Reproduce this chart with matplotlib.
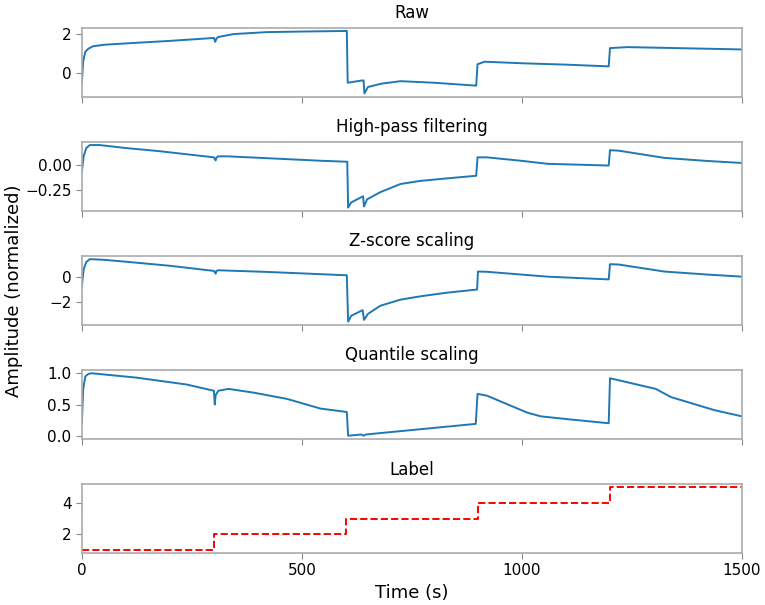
import matplotlib
matplotlib.use("Agg")
import matplotlib.pyplot as plt
import numpy as np


# values (time in s)
raw_t = [0, 3, 8, 15, 25, 50, 100, 200, 300, 303, 306, 310, 345, 420, 500, 602,
         604, 632, 640, 642, 650, 680, 724, 800, 896, 899, 915, 1000, 1100, 1197,
         1200, 1240, 1350, 1500]
raw_v = [-0.5, 0.6, 1.1, 1.25, 1.37, 1.45, 1.52, 1.65, 1.8, 1.6, 1.78, 1.85, 2.0,
         2.1, 2.13, 2.16, -0.5, -0.4, -0.38, -1.05, -0.72, -0.55, -0.42, -0.5,
         -0.65, 0.45, 0.58, 0.5, 0.43, 0.34, 1.28, 1.33, 1.28, 1.21]

hp_t = [0, 4, 10, 18, 40, 102, 177, 300, 304, 306, 310, 330, 405, 542, 603,
        605, 612, 639, 641, 648, 678, 724, 769, 830, 896, 899, 920, 997, 1058,
        1197, 1200, 1220, 1323, 1420, 1500]
hp_v = [-0.07, 0.08, 0.16, 0.19, 0.19, 0.16, 0.13, 0.07, 0.04, 0.07, 0.08, 0.08,
        0.065, 0.037, 0.027, -0.42, -0.37, -0.31, -0.41, -0.34, -0.27, -0.19,
        -0.16, -0.135, -0.11, 0.07, 0.07, 0.037, 0.007, -0.01, 0.14, 0.135,
        0.065, 0.035, 0.015]

z_t = [0, 4, 10, 18, 50, 117, 200, 300, 304, 306, 310, 420, 602, 605, 612, 638,
       641, 650, 678, 724, 770, 830, 898, 900, 920, 1058, 1197, 1200, 1220,
       1323, 1420, 1500]
z_v = [-0.73, 0.6, 1.2, 1.43, 1.38, 1.17, 0.9, 0.49, 0.27, 0.5, 0.54, 0.41, 0.14,
       -3.57, -3.1, -2.65, -3.43, -2.95, -2.3, -1.81, -1.54, -1.25, -1.0, 0.44,
       0.42, 0.03, -0.19, 1.03, 1.0, 0.44, 0.2, 0.03]

q_t = [0, 3, 8, 15, 22, 124, 238, 300, 302, 304, 310, 333, 390, 466, 542, 602,
       605, 635, 640, 645, 895, 899, 921, 951, 1012, 1043, 1111, 1197, 1200,
       1304, 1338, 1437, 1500]
q_v = [0.2, 0.75, 0.95, 0.99, 1.0, 0.93, 0.82, 0.72, 0.5, 0.65, 0.72, 0.75, 0.69,
       0.59, 0.435, 0.38, 0.0, 0.02, 0.0, 0.02, 0.19, 0.67, 0.64, 0.55, 0.37,
       0.31, 0.26, 0.2, 0.92, 0.75, 0.62, 0.41, 0.31]

label_t = [0, 300, 600, 900, 1200, 1500]
label_v = [1, 2, 3, 4, 5, 5]

titles = ["Raw", "High-pass filtering", "Z-score scaling", "Quantile scaling", "Label"]
signals = [(raw_t, raw_v), (hp_t, hp_v), (z_t, z_v), (q_t, q_v)]

fig, axes = plt.subplots(5, 1, figsize=(7.65, 6.05), dpi=100, sharex=True)
fig.subplots_adjust(left=0.107, right=0.970, top=0.954, bottom=0.086, hspace=0.66)

for ax, (t, v) in zip(axes[:4], signals):
    ax.plot(t, v, color="#1f77b4", lw=1.4)

axes[4].plot(label_t, label_v, "r--", lw=1.4, drawstyle="steps-post")

for ax, title in zip(axes, titles):
    ax.set_title(title, fontsize=12, pad=7)
    ax.set_xlim(0, 1500)
    ax.set_xticks([0, 500, 1000, 1500])
    for s in ax.spines.values():
        s.set_color("#aaaaaa")
        s.set_linewidth(1.2)
    ax.tick_params(colors="#888888", labelcolor="black", labelsize=11, length=4)

axes[1].set_yticks([0.0, -0.25])
axes[1].set_yticklabels(["0.00", "\u22120.25"])
axes[2].set_yticks([0, -2])
axes[3].set_yticks([0.0, 0.5, 1.0])
axes[4].set_yticks([2, 4])

axes[4].set_xlabel("Time (s)", fontsize=13)
fig.text(0.018, 0.52, "Amplitude (normalized)", rotation=90, va="center",
         ha="center", fontsize=13)

plt.savefig("out.png", dpi=100)
